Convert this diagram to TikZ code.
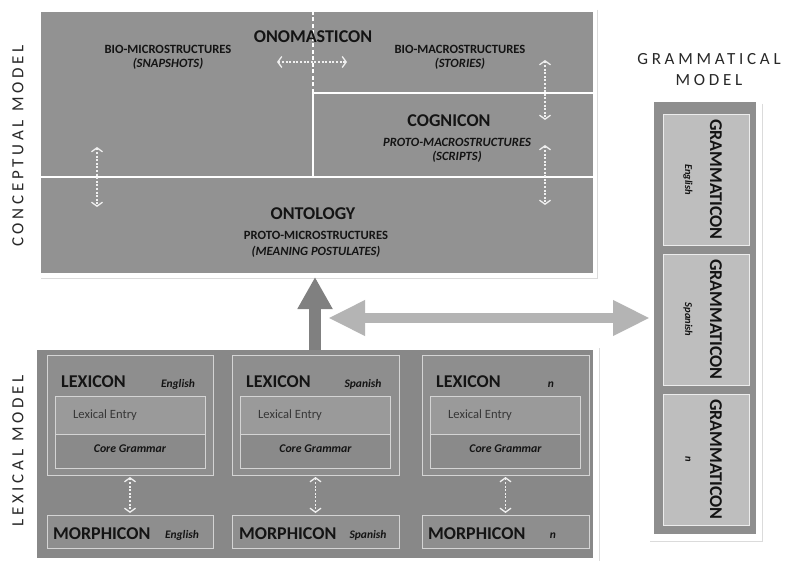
\documentclass[tikz,border=0pt]{standalone}
\usepackage{fontspec}
\setmainfont{Carlito}
\usepackage{tikz}
\usetikzlibrary{positioning,arrows.meta,calc}

\definecolor{conceptgray}{RGB}{146,146,146}
\definecolor{lexgray}{RGB}{136,136,136}
\definecolor{boxgray}{RGB}{142,142,142}
\definecolor{entrygray}{RGB}{154,154,154}
\definecolor{coregray}{RGB}{138,138,138}
\definecolor{cellgray}{RGB}{190,190,190}
\definecolor{rimgray}{RGB}{212,212,212}
\definecolor{inkgray}{RGB}{20,20,20}
\definecolor{sidegray}{RGB}{40,40,40}
\definecolor{uparrowgray}{RGB}{128,128,128}
\definecolor{linkgray}{RGB}{180,180,180}

\tikzset{
  panel/.style={fill=#1, draw=none, inner sep=0pt, outer sep=0pt},
  lexbox/.style={fill=boxgray, draw=rimgray, line width=0.9pt, inner sep=0pt, outer sep=0pt},
  entrybox/.style={fill=entrygray, draw=rimgray, line width=0.9pt, inner sep=0pt, outer sep=0pt},
  corebox/.style={fill=coregray, draw=rimgray, line width=0.9pt, inner sep=0pt, outer sep=0pt},
  gramcell/.style={fill=cellgray, draw=white!85!gray, line width=0.9pt, inner sep=0pt, outer sep=0pt},
  shadowline/.style={draw=black!14, line width=1pt},
  divider/.style={draw=white, line width=1.8pt},
  title/.style={font=\fontsize{18}{18}\selectfont\bfseries, text=inkgray, inner sep=0pt},
  subtitle/.style={font=\fontsize{12.6}{12.6}\selectfont\bfseries, text=inkgray, inner sep=0pt},
  subitalic/.style={font=\fontsize{12.6}{12.6}\selectfont\bfseries\itshape, text=inkgray, inner sep=0pt},
  langtag/.style={font=\fontsize{11.5}{11.5}\selectfont\bfseries\itshape, text=inkgray, inner sep=0pt},
  gramtag/.style={font=\fontsize{10.5}{10.5}\selectfont\bfseries\itshape, text=inkgray, inner sep=0pt},
  entrytxt/.style={font=\fontsize{12.6}{12.6}\selectfont, text=inkgray!85, inner sep=0pt},
  coretxt/.style={font=\fontsize{11.8}{11.8}\selectfont\bfseries\itshape, text=inkgray, inner sep=0pt},
  sidetitle/.style={font=\fontsize{17}{17}\selectfont\addfontfeature{LetterSpace=22}, text=sidegray, inner sep=0pt},
  dotarrow/.style={draw=white!88!gray, line width=1.3pt, dash pattern=on 2pt off 1.6pt,
    {Straight Barb[length=4pt,width=11pt]}-{Straight Barb[length=4pt,width=11pt]}},
  uparrow/.style={draw=uparrowgray, line width=12pt, -{Triangle[length=32pt,width=33pt]}},
  linkarrow/.style={draw=linkgray, line width=10pt,
    {Triangle[length=37pt,width=33pt]}-{Triangle[length=37pt,width=33pt]}}
}

\begin{document}
\begin{tikzpicture}[x=1pt,y=-1pt]
\useasboundingbox[fill=white] (0,0) rectangle (789,561);

% panels
\node[panel=conceptgray, anchor=north west, minimum width=552pt, minimum height=261pt] (concept) at (41,12) {};
\node[panel=lexgray, anchor=north west, minimum width=556pt, minimum height=208pt] (lexical) at (37,350) {};
\node[panel=boxgray, anchor=north west, minimum width=102pt, minimum height=432pt] (gram) at (654,102) {};

\draw[shadowline] ([xshift=4pt,yshift=2pt]concept.north east) -- ([xshift=4pt,yshift=-5pt]concept.south east) -- ([yshift=-5pt]concept.south west);
\draw[shadowline] ([xshift=6pt,yshift=2pt]lexical.north east) -- ([xshift=6pt,yshift=-3pt]lexical.south east);
\draw[shadowline] ([xshift=6pt,yshift=-2pt]gram.north east) -- ([xshift=6pt,yshift=-7pt]gram.south east) -- ([xshift=-4pt,yshift=-7pt]gram.south west);

% conceptual model
\coordinate (ontoTop) at (313,177);
\coordinate (cogCorner) at (313,93);
\draw[divider] (concept.west |- ontoTop) -- (concept.east |- ontoTop);
\draw[divider] (ontoTop) -- (cogCorner) -- (concept.east |- cogCorner);
\draw[divider, dash pattern=on 4pt off 2.5pt] (cogCorner) -- (cogCorner |- concept.north);

\node[title, anchor=base] (ono) at (313,43) {ONOMASTICON};
\node[subtitle, anchor=base] (bioMicro) at (168,54) {BIO-MICROSTRUCTURES};
\node[subitalic, anchor=base] (snap) at (168,68) {(SNAPSHOTS)};
\node[subtitle, anchor=base] (bioMacro) at (460,54) {BIO-MACROSTRUCTURES};
\node[subitalic, anchor=base] (stories) at (460,68) {(STORIES)};
\node[title, anchor=base] (cog) at (449,127) {COGNICON};
\node[subitalic, anchor=base] (protoMacro) at (457,147) {PROTO-MACROSTRUCTURES};
\node[subitalic, anchor=base] (scripts) at (457,161) {(SCRIPTS)};
\node[title, anchor=base] (onto) at (313,220) {ONTOLOGY};
\node[subtitle, anchor=base] (protoMicro) at (316,240) {PROTO-MICROSTRUCTURES};
\node[subitalic, anchor=base] (postulates) at (316,255) {(MEANING POSTULATES)};

\coordinate (onoL) at (277,62);
\coordinate (onoR) at (347,62);
\coordinate (microA) at (97,147);
\coordinate (microB) at (97,207);
\coordinate (macroA) at (545,60);
\coordinate (macroB) at (545,120);
\coordinate (scriptA) at (545,145);
\coordinate (scriptB) at (545,205);
\draw[dotarrow] (onoL) -- (onoR);
\draw[dotarrow] (microA) -- (microB);
\draw[dotarrow] (macroA) -- (macroB);
\draw[dotarrow] (scriptA) -- (scriptB);

% lexical model
\node[lexbox, anchor=north west, minimum width=166pt, minimum height=120pt] (lexE) at (47,355) {};
\node[lexbox, anchor=north west, minimum width=167pt, minimum height=120pt] (lexS) at (232,355) {};
\node[lexbox, anchor=north west, minimum width=167pt, minimum height=120pt] (lexN) at (422,355) {};

\node[entrybox, minimum width=150pt, minimum height=38pt, below=41pt of lexE.north] (entE) {};
\node[corebox, minimum width=150pt, minimum height=34pt, below=0pt of entE] (coreE) {};
\node[entrybox, minimum width=150pt, minimum height=38pt, below=41pt of lexS.north] (entS) {};
\node[corebox, minimum width=150pt, minimum height=34pt, below=0pt of entS] (coreS) {};
\node[entrybox, minimum width=150pt, minimum height=38pt, below=41pt of lexN.north] (entN) {};
\node[corebox, minimum width=150pt, minimum height=34pt, below=0pt of entN] (coreN) {};

\node[lexbox, minimum width=166pt, minimum height=33pt, below=40pt of lexE] (morE) {};
\node[lexbox, minimum width=167pt, minimum height=33pt, below=40pt of lexS] (morS) {};
\node[lexbox, minimum width=167pt, minimum height=33pt, below=40pt of lexN] (morN) {};

\node[title, anchor=base west] (lexEt) at (61,387) {LEXICON};
\node[langtag, anchor=base] at (178,387) {English};
\node[title, anchor=base west] (lexSt) at (246,387) {LEXICON};
\node[langtag, anchor=base] at (363,387) {Spanish};
\node[title, anchor=base west] (lexNt) at (436,387) {LEXICON};
\node[langtag, anchor=base] at (551,387) {n};

\node[entrytxt, anchor=base west] at (73,418) {Lexical Entry};
\node[entrytxt, anchor=base west] at (258,418) {Lexical Entry};
\node[entrytxt, anchor=base west] at (448,418) {Lexical Entry};
\node[coretxt, anchor=base] at (coreE.center |- 0,452) {Core Grammar};
\node[coretxt, anchor=base] at (coreS.center |- 0,452) {Core Grammar};
\node[coretxt, anchor=base] at (coreN.center |- 0,452) {Core Grammar};

\node[title, anchor=base west] (morEt) at (53,539) {MORPHICON};
\node[langtag, anchor=base] at (182,538) {English};
\node[title, anchor=base west] (morSt) at (239,539) {MORPHICON};
\node[langtag, anchor=base] at (368,538) {Spanish};
\node[title, anchor=base west] (morNt) at (428,539) {MORPHICON};
\node[langtag, anchor=base] at (553,538) {n};

\draw[dotarrow, shorten <=2pt, shorten >=2pt] (lexE.south) -- (morE.north);
\draw[dotarrow, shorten <=2pt, shorten >=2pt] (lexS.south) -- (morS.north);
\draw[dotarrow, shorten <=2pt, shorten >=2pt] (lexN.south) -- (morN.north);

% grammatical model
\node[gramcell, anchor=north west, minimum width=86pt, minimum height=131pt] (gramE) at (663,114) {};
\node[gramcell, minimum width=86pt, minimum height=131pt, below=9pt of gramE] (gramS) {};
\node[gramcell, minimum width=86pt, minimum height=131pt, below=9pt of gramS] (gramN) {};

\node[title, rotate=-90] at ($(gramE.center)+(10,0)$) {GRAMMATICON};
\node[gramtag, rotate=-90] at ($(gramE.center)+(-18,0)$) {English};
\node[title, rotate=-90] at ($(gramS.center)+(10,0)$) {GRAMMATICON};
\node[gramtag, rotate=-90] at ($(gramS.center)+(-18,0)$) {Spanish};
\node[title, rotate=-90] at ($(gramN.center)+(10,0)$) {GRAMMATICON};
\node[gramtag, rotate=-90] at ($(gramN.center)+(-18,0)$) {n};

% side titles
\node[sidetitle, rotate=90] (conceptT) at (18,146) {CONCEPTUAL\hspace{8pt}MODEL};
\node[sidetitle, rotate=90] (lexicalT) at (18,451) {LEXICAL\hspace{8pt}MODEL};
\node[sidetitle, anchor=base] (gramT) at (709,65) {GRAMMATICAL};
\node[sidetitle, anchor=base] (gramT2) at (709,86) {MODEL};

% edges
\draw[uparrow] (lexical.north) -- ([yshift=-4pt]lexical.north |- concept.south);
\coordinate (gramLink) at (328,318);
\draw[linkarrow, shorten >=4pt] (gramLink) -- (gramLink -| gram.west);
\end{tikzpicture}
\end{document}
